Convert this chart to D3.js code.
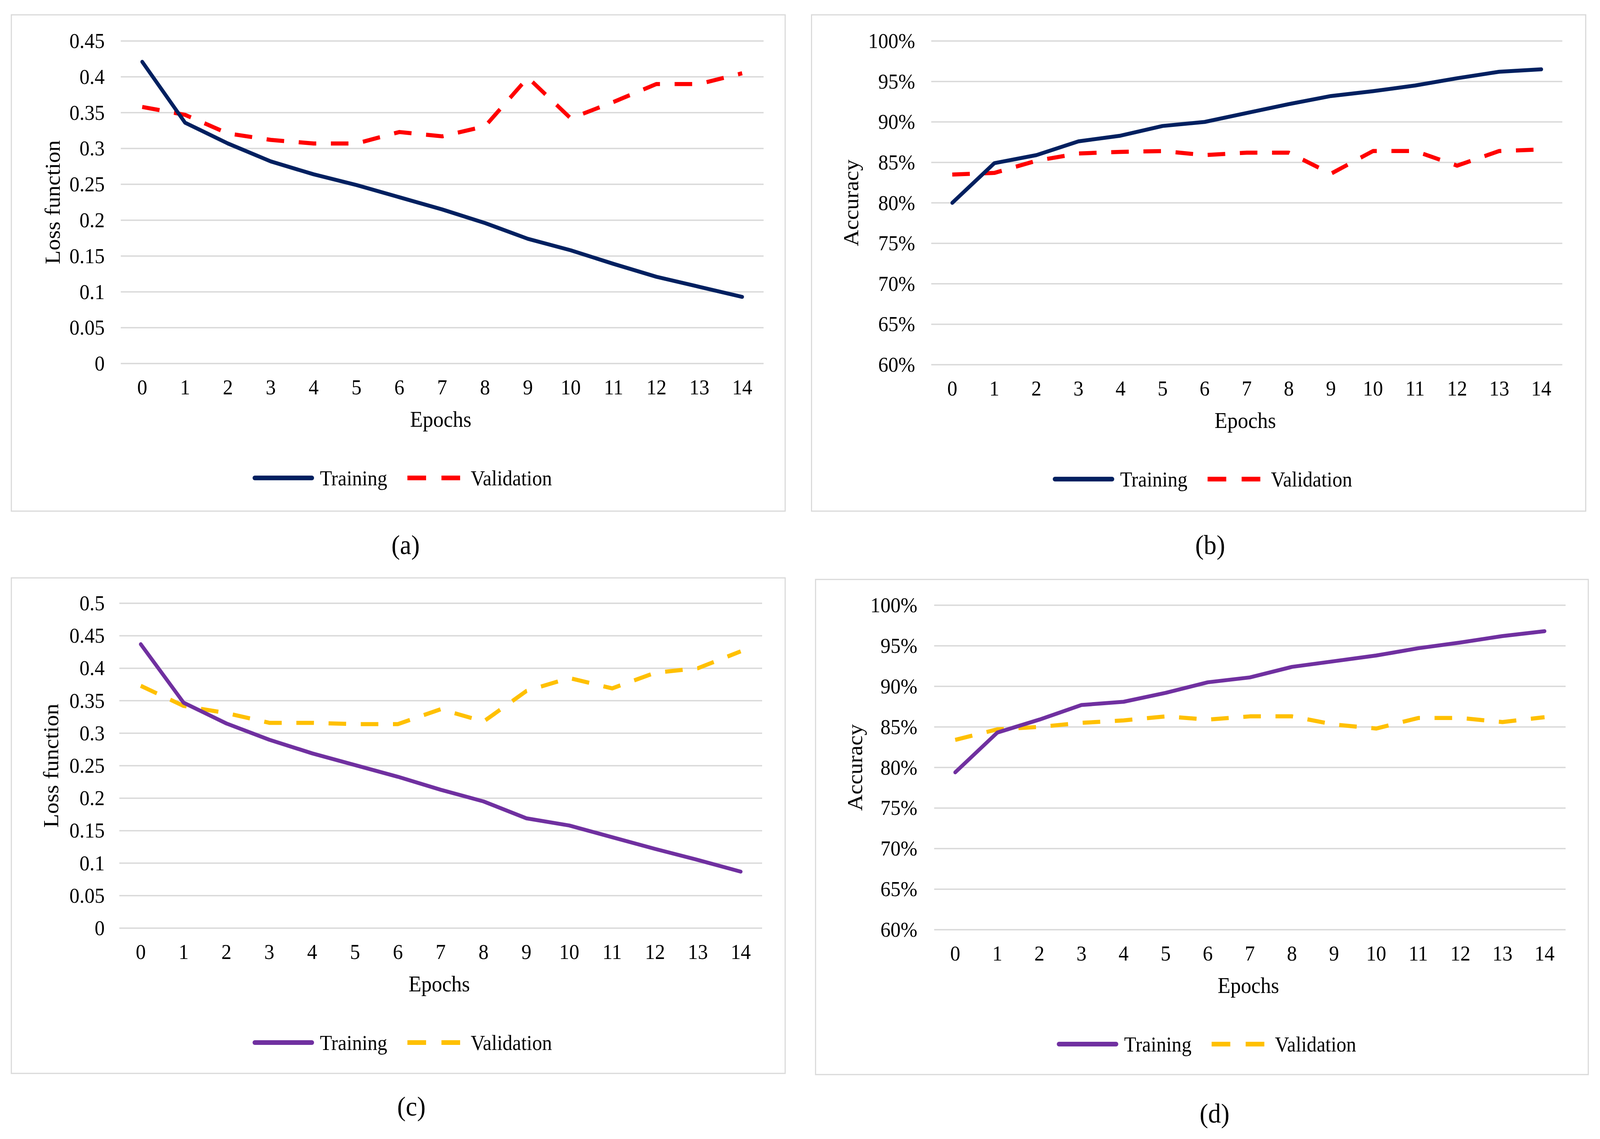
<!DOCTYPE html>
<html>
<head>
<meta charset="utf-8">
<script src="https://cdn.jsdelivr.net/npm/d3@7"></script>
<style>
  html, body { margin: 0; padding: 0; background: #fff; overflow: hidden; width: 100%; height: 100%; }
  svg { display: block; width: 100vw; height: 100vh; }
  text { font-family: "Liberation Serif", "Times New Roman", serif; fill: #000; }
</style>
</head>
<body>
<svg id="fig" viewBox="0 0 4371 2917" preserveAspectRatio="none"></svg>
<script>
// ---- data ----
const epochs = d3.range(0, 15);

// (a) loss, model 1
const lossTrainA = [0.421, 0.336, 0.307, 0.282, 0.264, 0.249, 0.232, 0.215, 0.196, 0.174, 0.158, 0.139, 0.121, 0.107, 0.093];
const lossValA   = [0.358, 0.347, 0.321, 0.312, 0.307, 0.307, 0.323, 0.317, 0.331, 0.399, 0.342, 0.365, 0.390, 0.390, 0.405];

// (b) accuracy, model 1
const accTrainB = [0.800, 0.849, 0.859, 0.876, 0.883, 0.895, 0.900, 0.911, 0.922, 0.932, 0.938, 0.945, 0.954, 0.962, 0.965];
const accValB   = [0.835, 0.837, 0.852, 0.861, 0.863, 0.864, 0.859, 0.862, 0.862, 0.836, 0.864, 0.864, 0.846, 0.864, 0.866];

// (c) loss, model 2
const lossTrainC = [0.437, 0.347, 0.315, 0.290, 0.269, 0.251, 0.233, 0.213, 0.195, 0.169, 0.158, 0.140, 0.122, 0.105, 0.087];
const lossValC   = [0.373, 0.342, 0.331, 0.316, 0.316, 0.314, 0.314, 0.337, 0.318, 0.365, 0.385, 0.369, 0.393, 0.400, 0.426];

// (d) accuracy, model 2
const accTrainD = [0.794, 0.843, 0.859, 0.877, 0.881, 0.892, 0.905, 0.911, 0.924, 0.931, 0.938, 0.947, 0.954, 0.962, 0.968];
const accValD   = [0.834, 0.847, 0.850, 0.855, 0.858, 0.863, 0.859, 0.863, 0.863, 0.853, 0.848, 0.861, 0.861, 0.856, 0.862];

const lossTicksA = d3.range(0, 0.451, 0.05);
const lossTicksC = d3.range(0, 0.501, 0.05);
const accTicks   = d3.range(0.6, 1.001, 0.05);

const seriesNames = ["Training", "Validation"];

// ---- layout ----
const panels = [
  { id: "a", train: lossTrainA, val: lossValA, ticks: lossTicksA, domain: [0, 0.45], pct: false,
    box: [31, 38, 2145, 1309], px: [330, 2086], py: [105, 931], yLabel: "Loss function",
    yLabelX: 144, tickRight: 286, colors: ["#002060", "#FF0000"], caption: "(a)", capX: 1108, capY: 1396 },
  { id: "b", train: accTrainB, val: accValB, ticks: accTicks, domain: [0.6, 1], pct: true,
    box: [2217, 38, 4332, 1309], px: [2544, 4268], py: [105, 934], yLabel: "Accuracy",
    yLabelX: 2325, tickRight: 2500, colors: ["#002060", "#FF0000"], caption: "(b)", capX: 3306, capY: 1396 },
  { id: "c", train: lossTrainC, val: lossValC, ticks: lossTicksC, domain: [0, 0.5], pct: false,
    box: [31, 1480, 2145, 2749], px: [326, 2082], py: [1545, 2377], yLabel: "Loss function",
    yLabelX: 139, tickRight: 286, colors: ["#7030A0", "#FFC000"], caption: "(c)", capX: 1124, capY: 2834 },
  { id: "d", train: accTrainD, val: accValD, ticks: accTicks, domain: [0.6, 1], pct: true,
    box: [2228, 1484, 4339, 2752], px: [2552, 4277], py: [1550, 2381], yLabel: "Accuracy",
    yLabelX: 2336, tickRight: 2506, colors: ["#7030A0", "#FFC000"], caption: "(d)", capX: 3318, capY: 2852 }
];

const svg = d3.select("#fig");
svg.append("rect").attr("width", 4371).attr("height", 2917).attr("fill", "#fff");

const GRID = "#D9D9D9";
const LW = 10;
const DASH = "48 40";

panels.forEach(p => {
  const g = svg.append("g").attr("class", "panel-" + p.id);
  const [bx0, by0, bx1, by1] = p.box;

  // frame
  g.append("rect")
    .attr("x", bx0).attr("y", by0)
    .attr("width", bx1 - bx0).attr("height", by1 - by0)
    .attr("fill", "#fff").attr("stroke", GRID).attr("stroke-width", 3);

  const x = d3.scalePoint().domain(epochs).range(p.px).padding(0.5);
  const y = d3.scaleLinear().domain(p.domain).range([p.py[1], p.py[0]]);
  const fmt = p.pct ? d3.format(".0%") : (d => String(+d.toFixed(2)));

  // gridlines
  g.append("g").selectAll("line").data(p.ticks).join("line")
    .attr("x1", p.px[0]).attr("x2", p.px[1])
    .attr("y1", d => y(d)).attr("y2", d => y(d))
    .attr("stroke", GRID).attr("stroke-width", 3.5);

  // y tick labels
  g.append("g").selectAll("text").data(p.ticks).join("text")
    .attr("x", p.tickRight).attr("y", d => y(d))
    .attr("text-anchor", "end").attr("dominant-baseline", "central")
    .attr("font-size", 55)
    .text(fmt);

  // x tick labels
  const bottom = p.py[1];
  g.append("g").selectAll("text").data(epochs).join("text")
    .attr("x", d => x(d)).attr("y", bottom + 61)
    .attr("text-anchor", "middle").attr("dominant-baseline", "central")
    .attr("font-size", 55)
    .text(d => d);

  // axis titles
  g.append("text")
    .attr("x", (p.px[0] + p.px[1]) / 2 - 4).attr("y", bottom + 143)
    .attr("text-anchor", "middle").attr("dominant-baseline", "central")
    .attr("font-size", 57)
    .text("Epochs");

  g.append("text")
    .attr("transform", `translate(${p.yLabelX},${(p.py[0] + p.py[1]) / 2}) rotate(-90)`)
    .attr("text-anchor", "middle").attr("dominant-baseline", "central")
    .attr("font-size", 58)
    .text(p.yLabel);

  // lines
  const line = d3.line().x((d, i) => x(epochs[i])).y(d => y(d));
  g.append("path").datum(p.val)
    .attr("d", line).attr("fill", "none")
    .attr("stroke", p.colors[1]).attr("stroke-width", LW + 0.5)
    .attr("stroke-dasharray", DASH).attr("stroke-linejoin", "round");
  g.append("path").datum(p.train)
    .attr("d", line).attr("fill", "none")
    .attr("stroke", p.colors[0]).attr("stroke-width", LW)
    .attr("stroke-linejoin", "round").attr("stroke-linecap", "round");

  // legend
  const ly = bottom + 293;
  const lx = bx0 + 665;
  const leg = g.append("g");
  leg.append("line")
    .attr("x1", lx).attr("x2", lx + 156).attr("y1", ly).attr("y2", ly)
    .attr("stroke", p.colors[0]).attr("stroke-width", 12).attr("stroke-linecap", "round");
  leg.append("text")
    .attr("x", lx + 178).attr("y", ly)
    .attr("dominant-baseline", "central").attr("font-size", 54)
    .text(seriesNames[0]);
  leg.append("line")
    .attr("x1", lx + 417).attr("x2", lx + 562).attr("y1", ly).attr("y2", ly)
    .attr("stroke", p.colors[1]).attr("stroke-width", 12)
    .attr("stroke-dasharray", "51 42");
  leg.append("text")
    .attr("x", lx + 590).attr("y", ly)
    .attr("dominant-baseline", "central").attr("font-size", 54)
    .text(seriesNames[1]);

  // caption
  svg.append("text")
    .attr("x", p.capX).attr("y", p.capY)
    .attr("text-anchor", "middle").attr("dominant-baseline", "central")
    .attr("font-size", 70)
    .text(p.caption);
});
</script>
</body>
</html>
